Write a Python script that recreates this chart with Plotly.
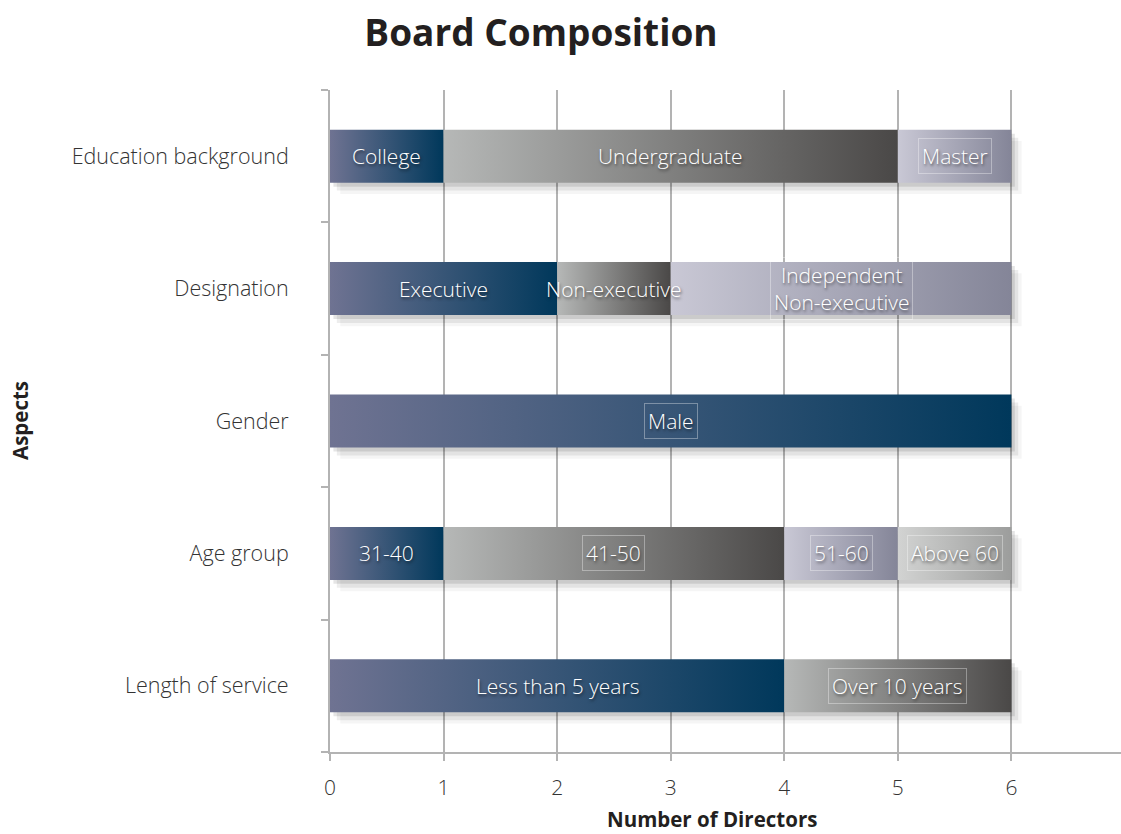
import plotly.graph_objects as go

# ---- data ----
aspects = ["Education background", "Designation", "Gender", "Age group", "Length of service"]
edu_labels = ["College", "Undergraduate", "Master"]
edu_values = [1, 4, 1]
des_labels = ["Executive", "Non-executive", "Independent<br>Non-executive"]
des_values = [2, 1, 3]
gen_labels = ["Male"]
gen_values = [6]
age_labels = ["31-40", "41-50", "51-60", "Above 60"]
age_values = [1, 3, 1, 1]
svc_labels = ["Less than 5 years", "Over 10 years"]
svc_values = [4, 2]
x_ticks = [0, 1, 2, 3, 4, 5, 6, 7]

# style per segment (gradient type)
BLUE = ["#6f7392", "#00385b"]
GREY = ["#b6b8b7", "#4a4847"]
LAV = ["#c9c8d5", "#848598"]
LGREY = ["#d2d3d2", "#9c9d9c"]
rows = [
    (edu_labels, edu_values, [BLUE, GREY, LAV], [False, False, True]),
    (des_labels, des_values, [BLUE, GREY, LAV], [False, False, True]),
    (gen_labels, gen_values, [BLUE], [True]),
    (age_labels, age_values, [BLUE, GREY, LAV, LGREY], [False, True, True, True]),
    (svc_labels, svc_values, [BLUE, GREY], [False, True]),
]

FONT = "Open Sans"
HALF = 0.2
fig = go.Figure()
annotations = []
n = len(aspects)
for i, (labels, values, grads, boxed) in enumerate(rows):
    yc = n - 1 - i
    total = sum(values)
    # soft shadow layers
    for k, (dx, dy, a) in enumerate([(0.03, 0.03, 0.10), (0.06, 0.06, 0.07), (0.09, 0.085, 0.04)]):
        fig.add_trace(go.Scatter(
            x=[dx, total + dx, total + dx, dx, dx],
            y=[yc - HALF - dy, yc - HALF - dy, yc + HALF - dy, yc + HALF - dy, yc - HALF - dy],
            fill="toself", fillcolor=f"rgba(0,0,0,{a})", mode="lines",
            line=dict(width=0), hoverinfo="skip", showlegend=False))
    start = 0
    for lab, val, g, bx in zip(labels, values, grads, boxed):
        end = start + val
        fig.add_trace(go.Scatter(
            x=[start, end, end, start, start],
            y=[yc - HALF, yc - HALF, yc + HALF, yc + HALF, yc - HALF],
            fill="toself",
            fillgradient=dict(type="horizontal", colorscale=[[0, g[0]], [1, g[1]]]),
            mode="lines", line=dict(width=0), name=lab, showlegend=False,
            hovertemplate=f"{aspects[i]}<br>{lab}: {val}<extra></extra>"))
        annotations.append(dict(
            x=(start + end) / 2, y=yc, xref="x", yref="y", text=lab, showarrow=False,
            font=dict(family=FONT, size=21, color="white", weight=300,
                      shadow="1px 2px 3px rgba(0,0,0,0.55)"),
            bordercolor="rgba(255,255,255,0.35)" if bx else "rgba(0,0,0,0)",
            borderwidth=1, borderpad=3))
        start = end

# axis titles as positioned texts
annotations.append(dict(
    x=0.483, y=0, xref="paper", yref="paper", yanchor="middle", yshift=-67,
    text="<b>Number of Directors</b>", showarrow=False,
    font=dict(family=FONT, size=20.5, color="#231f20")))
annotations.append(dict(
    x=0, y=0.5, xref="paper", yref="paper", xanchor="center", xshift=-310,
    text="<b>Aspects</b>", textangle=-90, showarrow=False,
    font=dict(family=FONT, size=20.5, color="#231f20")))

fig.update_layout(
    width=1121, height=834,
    paper_bgcolor="white", plot_bgcolor="white",
    margin=dict(l=330, r=0, t=90, b=82, autoexpand=False),
    annotations=annotations,
    showlegend=False,
    title=dict(text="<b>Board Composition</b>", xref="container", x=541 / 1121, xanchor="center",
               yref="container", y=1 - 33 / 834, yanchor="middle",
               font=dict(family=FONT, size=37, color="#231f20")),
)
fig.update_xaxes(
    range=[0, 6.965], tickvals=x_ticks, ticktext=[str(v) for v in x_ticks],
    showgrid=True, gridcolor="#b3b3b3", gridwidth=2,
    showline=True, linecolor="#b3b3b3", linewidth=2,
    ticks="outside", ticklen=7, tickcolor="#b3b3b3", tickwidth=2,
    ticklabelstandoff=9,
    tickfont=dict(family=FONT, size=21, color="#333333", weight=300),
    zeroline=False,
)
fig.update_yaxes(
    range=[-0.5, n - 0.5], tickvals=list(range(n - 1, -1, -1)), ticktext=aspects,
    showgrid=False, zeroline=False,
    showline=True, linecolor="#b3b3b3", linewidth=2,
    ticks="", ticklabelstandoff=35,
    minor=dict(tickvals=[v - 0.5 for v in range(n + 1)], ticks="outside",
               ticklen=7, tickcolor="#b3b3b3", tickwidth=2, showgrid=False),
    tickfont=dict(family=FONT, size=21.5, color="#333333", weight=300),
)
fig.write_html("out.html", config={"displayModeBar": False},
               post_script="document.body.style.margin='0';document.body.style.overflow='hidden';")
